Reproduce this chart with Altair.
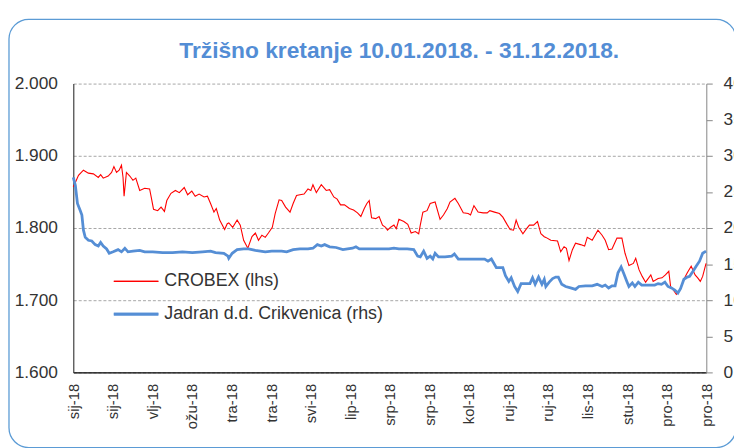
import altair as alt
import pandas as pd

# ---------------- data ----------------
title_text = "Tržišno kretanje 10.01.2018. - 31.12.2018."
series_names = ["CROBEX (lhs)", "Jadran d.d. Crikvenica (rhs)"]

x_labels = ["sij-18", "sij-18", "vlj-18", "ožu-18", "tra-18", "tra-18", "svi-18",
            "lip-18", "srp-18", "srp-18", "kol-18", "ruj-18", "ruj-18", "lis-18",
            "stu-18", "pro-18", "pro-18"]
n_days = 243  # trading-day index of the last observation

crobex_days = [0, 0.8, 2.0, 3.9, 5.8, 7.7, 9.6, 10.5, 11.5, 13.4, 14.7, 15.6, 16.6, 17.6,
               18.5, 19.1, 19.5, 20.4, 21.7, 22.9, 24.0, 25.5, 27.4, 29.3, 29.9, 30.8,
               32.4, 33.7, 35.0, 35.9, 37.5, 39.2, 40.7, 42.6, 43.9, 45.5, 46.8, 48.3,
               50.2, 51.5, 52.7, 54.0, 54.9, 56.2, 58.1, 59.1, 59.7, 61.2, 62.9, 64.1,
               65.4, 67.0, 68.6, 69.9, 71.1, 72.4, 73.7, 74.9, 76.4, 77.5, 79.0, 80.0,
               81.5, 83.2, 84.4, 85.7, 87.0, 88.6, 90.1, 91.2, 92.0, 93.3, 95.2, 97.1,
               98.4, 100.0, 101.3, 102.6, 104.1, 106.0, 107.6, 109.1, 110.4, 111.7,
               112.7, 113.6, 114.5, 116.1, 117.4, 118.7, 119.9, 120.6, 121.8, 123.1,
               124.0, 125.0, 126.9, 128.4, 129.7, 131.3, 132.6, 133.2, 134.2, 135.8,
               137.0, 138.9, 140.8, 142.1, 143.6, 144.6, 146.5, 147.8, 149.7, 151.6,
               152.5, 153.8, 155.4, 157.3, 158.9, 159.9, 161.7, 163.6, 164.9, 166.5,
               167.7, 169.0, 170.0, 171.0, 172.6, 173.8, 175.1, 176.7, 178.2, 179.5,
               180.8, 181.4, 183.3, 185.9, 187.1, 188.4, 189.3, 190.3, 191.6, 192.8,
               194.7, 196.3, 197.3, 199.2, 201.4, 203.0, 204.2, 205.5, 206.8, 208.7,
               210.6, 211.8, 213.3, 215.0, 215.9, 217.2, 218.4, 219.7, 221.7, 222.6,
               224.5, 226.0, 227.3, 228.6, 229.3, 230.2, 231.5, 232.7, 234.4, 235.7,
               237.2, 238.7, 239.7, 240.7, 241.6, 242.9]
crobex_vals = [1857, 1863, 1873, 1880, 1876, 1875, 1870, 1874, 1869, 1872, 1877, 1885, 1877,
               1880, 1887, 1870, 1844, 1877, 1872, 1866, 1869, 1852, 1855, 1854, 1843, 1826,
               1824, 1829, 1823, 1838, 1848, 1852, 1849, 1856, 1846, 1851, 1844, 1847, 1843,
               1844, 1834, 1822, 1827, 1811, 1798, 1806, 1807, 1801, 1811, 1804, 1783, 1772,
               1788, 1793, 1783, 1790, 1787, 1793, 1801, 1820, 1839, 1838, 1829, 1822, 1834,
               1845, 1846, 1847, 1854, 1852, 1860, 1849, 1860, 1852, 1853, 1843, 1840, 1832,
               1832, 1827, 1825, 1821, 1816, 1827, 1834, 1838, 1814, 1813, 1816, 1804, 1801,
               1797, 1801, 1804, 1799, 1812, 1809, 1805, 1793, 1795, 1792, 1804, 1822, 1824,
               1834, 1836, 1812, 1818, 1827, 1836, 1841, 1834, 1821, 1820, 1818, 1831, 1822,
               1821, 1821, 1824, 1822, 1820, 1815, 1805, 1798, 1797, 1811, 1801, 1792, 1798,
               1804, 1804, 1809, 1792, 1788, 1787, 1783, 1782, 1767, 1774, 1772, 1755, 1770,
               1779, 1777, 1775, 1787, 1783, 1797, 1790, 1783, 1770, 1771, 1786, 1786, 1765,
               1748, 1751, 1758, 1742, 1733, 1725, 1735, 1726, 1730, 1731, 1735, 1740, 1719,
               1715, 1708, 1713, 1729, 1738, 1747, 1735, 1731, 1726, 1733, 1751]

jadran_days = [0, 0.8, 1.6, 2.7, 3.3, 3.9, 4.6, 5.8, 7.1, 8.4, 9.6, 10.5, 11.5, 12.8, 13.8,
               15.3, 17.2, 18.5, 19.8, 21.0, 22.9, 25.5, 27.4, 30.5, 34.3, 38.1, 41.9, 45.7,
               49.6, 52.7, 54.6, 57.8, 59.4, 59.7, 61.0, 62.9, 65.4, 67.3, 69.9, 73.7, 76.2,
               80.0, 81.9, 84.4, 87.0, 90.1, 92.0, 93.7, 95.2, 96.5, 98.4, 100.9, 103.5,
               105.3, 107.2, 108.5, 109.8, 112.9, 116.8, 121.2, 123.1, 125.0, 128.2, 130.7,
               132.2, 133.2, 134.5, 135.8, 137.0, 138.0, 138.9, 140.2, 142.7, 145.3, 146.3,
               147.8, 151.0, 154.8, 157.9, 159.2, 160.5, 162.4, 164.9, 165.9, 167.2, 168.1,
               169.4, 170.6, 171.9, 173.8, 175.3, 176.3, 177.3, 178.6, 179.9, 180.8, 181.4,
               182.7, 184.0, 185.2, 186.2, 187.5, 189.0, 190.9, 192.8, 194.1, 196.6, 199.2,
               201.1, 203.0, 204.2, 205.5, 206.8, 208.0, 209.1, 210.3, 211.2, 212.5, 213.3,
               214.6, 215.6, 216.9, 218.2, 220.7, 223.2, 224.5, 225.8, 227.1, 228.3, 229.6,
               230.9, 232.1, 233.1, 234.4, 235.7, 236.6, 237.9, 239.1, 240.4, 241.6, 242.9]
jadran_vals = [27.0, 25.9, 23.4, 22.4, 21.8, 19.7, 18.7, 18.3, 18.2, 17.7, 17.5, 18.0, 17.5,
               17.1, 16.5, 16.7, 17.0, 16.7, 17.2, 16.7, 16.8, 16.9, 16.7, 16.7, 16.6, 16.6,
               16.7, 16.6, 16.7, 16.8, 16.6, 16.5, 16.1, 15.8, 16.5, 17.0, 17.1, 17.1, 16.9,
               16.7, 16.8, 16.8, 16.7, 17.0, 17.1, 17.1, 17.2, 17.7, 17.5, 17.7, 17.4, 17.3,
               17.0, 17.1, 17.2, 17.4, 17.1, 17.1, 17.1, 17.1, 17.2, 17.1, 17.1, 17.0, 16.1,
               16.0, 16.8, 15.8, 16.1, 15.7, 16.5, 16.0, 16.0, 16.1, 16.4, 15.7, 15.7, 15.7,
               15.7, 15.4, 15.7, 14.5, 14.5, 13.4, 12.6, 13.1, 11.9, 11.2, 12.3, 12.3, 12.3,
               13.1, 12.2, 13.2, 12.2, 12.9, 11.9, 12.5, 13.0, 13.2, 13.2, 12.2, 11.9, 11.7,
               11.5, 11.9, 12.0, 12.0, 12.2, 11.9, 12.1, 11.7, 12.0, 12.0, 13.8, 14.6, 13.8,
               12.6, 11.9, 12.4, 11.9, 12.5, 12.1, 12.1, 12.1, 12.3, 12.2, 12.5, 11.9, 11.7,
               11.4, 11.0, 11.6, 12.9, 13.2, 13.3, 14.0, 14.7, 15.4, 16.5, 16.8]

left_ticks = [1600, 1700, 1800, 1900, 2000]
right_ticks = [0, 5, 10, 15, 20, 25, 30, 35, 40]

# ---------------- chart ----------------
FONT = "Liberation Sans"
RED = "#FF0000"
BLUE = "#558ED5"
TXT = "#333333"

crobex_df = pd.DataFrame({"day": crobex_days, "value": crobex_vals})
jadran_df = pd.DataFrame({"day": jadran_days, "value": jadran_vals})

x_tick_vals = [k * n_days / (len(x_labels) - 1) for k in range(len(x_labels))]
label_arr = "[" + ",".join("'" + s + "'" for s in x_labels) + "]"
x_axis = alt.Axis(values=x_tick_vals,
                  labelExpr=label_arr + "[round(datum.value*" + str(len(x_labels) - 1) + "/" + str(n_days) + ")]",
                  labelAngle=270, grid=False, ticks=False, domainColor="#000000",
                  domainWidth=1.2, labelFontSize=15, labelColor=TXT, labelPadding=11,
                  title=None, labelFont=FONT, labelOverlap=False)
x_scale = alt.Scale(domain=[0, n_days], nice=False, zero=False)

red = alt.Chart(crobex_df).mark_line(color=RED, strokeWidth=1.1).encode(
    x=alt.X("day:Q", scale=x_scale, axis=x_axis),
    y=alt.Y("value:Q", scale=alt.Scale(domain=[1600, 2000], nice=False, zero=False),
            axis=alt.Axis(values=left_ticks,
                          labelExpr="replace(format(datum.value, ',.0f'), ',', '.')",
                          grid=True, gridDash=[3, 2], gridColor="#A6A6A6", gridWidth=1,
                          ticks=False, domainColor="#404040", domainWidth=1.2,
                          labelFontSize=17.5, labelColor=TXT, labelPadding=16,
                          labelFont=FONT, title=None)),
)

blue = alt.Chart(jadran_df).mark_line(color=BLUE, strokeWidth=2.8).encode(
    x=alt.X("day:Q", scale=x_scale, axis=x_axis),
    y=alt.Y("value:Q", scale=alt.Scale(domain=[0, 40], nice=False),
            axis=alt.Axis(orient="right", values=right_ticks, grid=False, tickSize=6,
                          tickColor="#868686", domainColor="#868686", labelPadding=11,
                          labelFontSize=17.5, labelColor=TXT, labelFont=FONT, title=None)),
)

frame = alt.Chart(pd.DataFrame({"k": [0]})).mark_rect(
    filled=False, stroke="#5B9BD5", strokeWidth=1.3, cornerRadius=20
).encode(x=alt.value(-65), x2=alt.value(670), y=alt.value(-65), y2=alt.value(368))

title = alt.Chart(pd.DataFrame({"t": [title_text]})).mark_text(
    font=FONT, fontSize=23, fontWeight="bold", color="#538DD5", align="center", baseline="middle"
).encode(text="t:N", x=alt.value(329.5), y=alt.value(-33))

leg_df = pd.DataFrame({"name": series_names})
leg_red_line = alt.Chart(leg_df).mark_rule(color=RED, strokeWidth=1.1).encode(
    x=alt.value(41), x2=alt.value(86), y=alt.value(200))
leg_blue_line = alt.Chart(leg_df).mark_rule(color=BLUE, strokeWidth=2.8).encode(
    x=alt.value(41), x2=alt.value(86), y=alt.value(233))
leg_red_txt = alt.Chart(pd.DataFrame({"name": [series_names[0]]})).mark_text(
    font=FONT, fontSize=18, color=TXT, align="left", baseline="middle"
).encode(text="name:N", x=alt.value(92), y=alt.value(200))
leg_blue_txt = alt.Chart(pd.DataFrame({"name": [series_names[1]]})).mark_text(
    font=FONT, fontSize=18, color=TXT, align="left", baseline="middle"
).encode(text="name:N", x=alt.value(92), y=alt.value(233))

lines = alt.layer(red, blue).resolve_scale(y="independent")

chart = alt.layer(
    frame, lines, leg_red_line, leg_blue_line, leg_red_txt, leg_blue_txt, title
).properties(
    width=640, height=292,
    autosize=alt.AutoSizeParams(type="none"),
    padding={"left": 66, "top": 74, "right": 28, "bottom": 74},
    background="white",
).configure_view(stroke=None)

chart.save("out.html", embed_options={"renderer": "svg", "actions": False})
